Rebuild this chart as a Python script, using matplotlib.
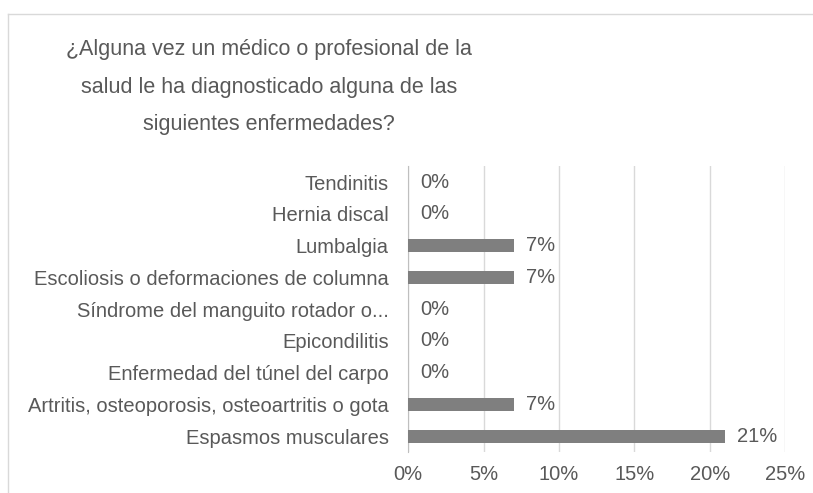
import matplotlib.pyplot as plt
from matplotlib import font_manager
from matplotlib.lines import Line2D
from matplotlib.ticker import FuncFormatter

# Data (top to bottom as shown)
categories = ['Tendinitis', 'Hernia discal', 'Lumbalgia',
              'Escoliosis o deformaciones de columna',
              'Síndrome del manguito rotador o...', 'Epicondilitis',
              'Enfermedad del túnel del carpo',
              'Artritis, osteoporosis, osteoartritis o gota',
              'Espasmos musculares']
values = [0, 0, 7, 7, 0, 0, 0, 7, 21]
xticks = [0, 5, 10, 15, 20, 25]
title = ('¿Alguna vez un médico o profesional de la\n'
         'salud le ha diagnosticado alguna de las\n'
         'siguientes enfermedades?')

txt = '#595959'
plt.rcParams['font.family'] = ['Liberation Sans', 'DejaVu Sans']

# narrow face for the title if it exists
names = {f.name for f in font_manager.fontManager.ttflist}
if 'Liberation Sans Narrow' in names:
    tfam, tsize, tls = ['Liberation Sans Narrow', 'Liberation Sans'], 18.5, 1.6
else:
    tfam, tsize, tls = ['Liberation Sans'], 15.5, 2.03

fig = plt.figure(figsize=(8.13, 4.93), dpi=100)
ax = fig.add_axes([0.502, 0.083, 0.4637, 0.580])

y = list(range(len(categories)))
ax.barh(y, values, height=0.42, color='#7f7f7f', zorder=3)
ax.set_ylim(len(categories) - 0.5, -0.5)
ax.set_xlim(0, 25)
ax.set_yticks(y)
ax.set_yticklabels(categories, fontsize=14.5, color=txt)
ax.set_xticks(xticks)
ax.xaxis.set_major_formatter(FuncFormatter(lambda v, p: f'{v:.0f}%'))
ax.tick_params(axis='x', length=0, labelsize=14.5, labelcolor=txt, pad=9)
ax.tick_params(axis='y', length=0, pad=14)
ax.grid(axis='x', color='#d9d9d9', lw=1, zorder=0)
for s in ['top', 'right', 'bottom']:
    ax.spines[s].set_visible(False)
ax.spines['left'].set_color('#bfbfbf')

for yi, v in zip(y, values):
    ax.annotate(f'{v:.0f}%', (v, yi), xytext=(9, 0), textcoords='offset points',
                va='center', ha='left', fontsize=14.5, color=txt)

fig.text(0.331, 0.8235, title, ha='center', va='center', fontsize=tsize,
         color=txt, linespacing=tls, family=tfam)

# chart border
fig.add_artist(Line2D([7.5/813, 7.5/813], [0, 1 - 13.5/493],
                      transform=fig.transFigure, color='#d9d9d9', lw=1))
fig.add_artist(Line2D([7.5/813, 1], [1 - 13.5/493, 1 - 13.5/493],
                      transform=fig.transFigure, color='#d9d9d9', lw=1))

fig.savefig('out.png', dpi=100)
